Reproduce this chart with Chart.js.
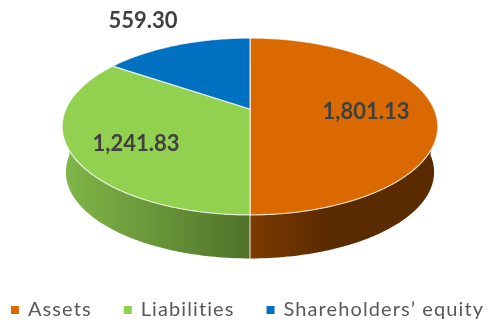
<!DOCTYPE html>
<html>
<head>
<meta charset="utf-8">
<script src="https://cdn.jsdelivr.net/npm/chart.js@4"></script>
<style>
  html, body { margin: 0; padding: 0; background: #fff; }
  canvas { display: block; }
</style>
</head>
<body>
<canvas id="pie" width="489" height="322"></canvas>
<script>
const categories = ['Assets', 'Liabilities', 'Shareholders’ equity'];
const values = [1801.13, 1241.83, 559.30];
const colors = ['#DA6A00', '#92D050', '#0070C0'];

// wall shading, left to right
const wallShades = [
    [[0, '#7C3B00'], [0.42, '#5A2A00'], [1, '#5A2A00']],
    [[0, '#7FB548'], [1, '#4F7329']],
    [[0, '#00447A'], [1, '#00447A']]
];
const labelSpots = [[366, 112], [136, 144], [143, 21]];

// tilt of the pie, the top has its hub above the middle of the ellipse
const tilt = 0.1977;
const hubShift = 5.5;
const topFace = { hubY: 109, a: 0.979, b: 85 };
const bottomFace = { hubY: 155, a: 0.96, b: 83 };
const legendSpacing = '1.1px'; // legend text is wider than Lato on its own

function project(face, hubX, radius, theta) {
    const s = Math.sin(theta), c = Math.cos(theta);
    const d = 1 + tilt * c;
    return [hubX + radius * face.a * s / d, face.hubY - face.b * c / d];
}

function traceRim(ctx, face, hubX, radius, from, to, first) {
    const steps = Math.max(2, Math.ceil(Math.abs(to - from) / 0.01));
    for (let i = 0; i <= steps; i++) {
        const p = project(face, hubX, radius, from + (to - from) * i / steps);
        if (i === 0 && first) ctx.moveTo(p[0], p[1]);
        else ctx.lineTo(p[0], p[1]);
    }
}

const tiltedPie = {
    id: 'tiltedPie',
    beforeUpdate(chart) {
        chart.ctx.letterSpacing = legendSpacing;
    },
    beforeDraw(chart) {
        chart.ctx.letterSpacing = legendSpacing;
    },
    beforeDatasetDraw(chart) {
        const ctx = chart.ctx;
        const arcs = chart.getDatasetMeta(0).data;
        const rim = 'rgba(255,255,255,0.75)';

        // side wall, only the front half of the pie shows it
        arcs.forEach((arc, i) => {
            const from = Math.max(arc.startAngle + Math.PI / 2, Math.PI / 2);
            const to = Math.min(arc.endAngle + Math.PI / 2, Math.PI * 1.5);
            if (to <= from) return;
            const r = arc.outerRadius;
            const x = arc.x + hubShift;
            const a = project(topFace, x, r, from)[0];
            const b = project(topFace, x, r, to)[0];
            const wall = ctx.createLinearGradient(Math.min(a, b), 0, Math.max(a, b), 0);
            wallShades[i].forEach(st => wall.addColorStop(st[0], st[1]));
            ctx.beginPath();
            traceRim(ctx, topFace, x, r, from, to, true);
            traceRim(ctx, bottomFace, x, r, to, from, false);
            ctx.closePath();
            ctx.fillStyle = wall;
            ctx.fill();
        });

        // seam on the wall between the slices
        arcs.forEach(arc => {
            const t = arc.startAngle + Math.PI / 2;
            if (t < Math.PI / 2 || t > Math.PI * 1.5) return;
            const p = project(topFace, arc.x + hubShift, arc.outerRadius, t);
            const q = project(bottomFace, arc.x + hubShift, arc.outerRadius, t);
            ctx.beginPath();
            ctx.moveTo(p[0], p[1]);
            ctx.lineTo(q[0], q[1]);
            ctx.strokeStyle = rim;
            ctx.lineWidth = 1.2;
            ctx.stroke();
        });

        // top face
        arcs.forEach(arc => {
            const from = arc.startAngle + Math.PI / 2;
            const to = arc.endAngle + Math.PI / 2;
            const x = arc.x + hubShift;
            ctx.beginPath();
            ctx.moveTo(x, topFace.hubY);
            traceRim(ctx, topFace, x, arc.outerRadius, from, to, false);
            ctx.closePath();
            ctx.fillStyle = arc.options.backgroundColor;
            ctx.fill();
            ctx.strokeStyle = rim;
            ctx.lineWidth = 1.2;
            ctx.stroke();
        });

        return false;
    },
    afterDatasetsDraw(chart) {
        const ctx = chart.ctx;
        ctx.save();
        ctx.letterSpacing = '0px';
        ctx.font = 'bold 22px Lato';
        ctx.fillStyle = '#404040';
        ctx.textAlign = 'center';
        ctx.textBaseline = 'middle';
        values.forEach((v, i) => {
            const text = v.toLocaleString('en-US', { minimumFractionDigits: 2 });
            ctx.fillText(text, labelSpots[i][0], labelSpots[i][1]);
        });
        ctx.restore();
    }
};

new Chart(document.getElementById('pie').getContext('2d'), {
    type: 'pie',
    data: {
        labels: categories,
        datasets: [{
            data: values,
            backgroundColor: colors,
            borderWidth: 0
        }]
    },
    options: {
        responsive: false,
        animation: false,
        radius: 188,
        // legend needs more room than the canvas, its padding is blank anyway
        layout: { padding: { left: -46, right: -53, bottom: -8 } },
        plugins: {
            tooltip: { enabled: false },
            legend: {
                position: 'bottom',
                labels: {
                    usePointStyle: true,
                    pointStyle: 'rect',
                    boxHeight: 8,
                    boxWidth: 6,
                    padding: 33,
                    color: '#595959',
                    font: { family: 'Lato', size: 20 }
                }
            }
        }
    },
    plugins: [tiltedPie]
});
</script>
</body>
</html>
